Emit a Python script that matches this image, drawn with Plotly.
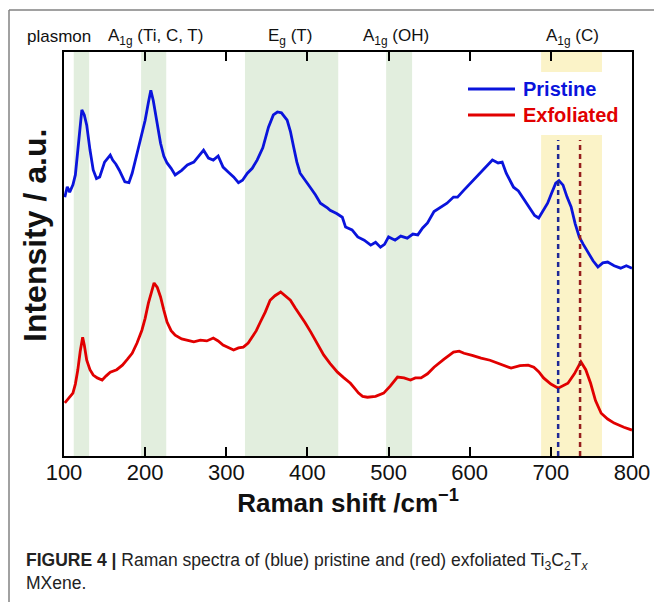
import plotly.graph_objects as go

# Raman shift (cm^-1) and intensity (a.u., arbitrary offset scale)
pristine_x = [101, 104, 107, 111, 114, 118, 122, 125, 128, 132, 136, 140, 144, 150, 157, 160, 164, 168, 175, 180, 184, 191, 196, 200, 204, 207, 210, 212,
              216, 219, 223, 227, 232, 237, 245, 252, 260, 266, 272, 278, 284, 290, 296, 303, 309, 315, 320, 326, 332, 338, 345, 352, 358, 363, 368, 375, 379, 383, 387, 391,
              397, 404, 410, 416, 425, 428, 436, 443, 447, 455, 462, 470, 478, 484, 490, 495, 500, 508, 515, 523, 530, 536, 542, 548, 556, 564, 572, 580, 585, 592, 601,
              608, 615, 622, 628, 635, 640, 645, 654, 660, 667, 675, 680, 685, 690, 696, 701, 706, 710, 715, 720, 725, 730, 735, 740, 746, 752, 758, 764, 770, 778, 786, 793, 800]
pristine_y = [63.5, 66.0, 64.7, 66.5, 68.9, 77.0, 84.7, 83.5, 81.0, 75.0, 70.1, 68.0, 68.4, 72.0, 73.7, 72.5, 71.5, 70.1, 67.2, 67.0, 69.3, 74.9, 79.0, 82.2, 86.5, 89.5, 87.0, 84.7,
              80.0, 76.6, 73.5, 71.8, 70.5, 68.9, 70.0, 71.3, 72.0, 73.5, 74.9, 73.0, 72.5, 73.5, 70.8, 69.5, 68.4, 67.0, 67.6, 69.3, 70.5, 72.5, 75.5, 80.5, 83.5, 84.2, 84.0, 82.2, 79.5, 75.7, 72.0, 69.3,
              67.5, 65.7, 64.0, 62.0, 60.8, 60.3, 59.5, 58.6, 56.2, 55.5, 53.8, 53.0, 51.8, 52.5, 51.3, 52.0, 53.8, 53.0, 54.0, 53.5, 54.5, 54.3, 56.0, 57.2, 60.0, 61.1, 62.0, 63.5, 63.5, 65.0, 66.9,
              68.5, 70.0, 71.3, 72.5, 71.8, 72.0, 69.3, 65.9, 65.0, 62.8, 60.3, 59.0, 58.4, 60.0, 62.0, 64.5, 66.9, 67.5, 66.4, 63.5, 61.1, 57.0, 53.8, 52.0, 49.9, 48.0, 46.5, 47.5, 47.7, 46.8, 46.2, 46.8, 46.2]

exfoliated_x = [101, 106, 111, 114, 117, 120, 123, 125, 128, 132, 136, 141, 147, 152, 157, 165, 172, 178, 184, 190, 196, 200, 204, 208, 211, 215, 219, 223, 227, 232, 237,
                245, 252, 260, 268, 276, 284, 290, 296, 302, 309, 315, 321, 327, 332, 337, 342, 348, 354, 360, 367, 373, 379, 385, 391, 397, 404, 412, 420, 428, 437, 445, 453,
                458, 463, 468, 474, 484, 494, 502, 511, 519, 527, 533, 540, 548, 556, 568, 580, 587, 593, 603, 614, 625, 635, 643, 651, 662, 672, 679, 685, 691, 700, 709,
                715, 721, 729, 737, 743, 749, 755, 762, 770, 778, 790, 800]
exfoliated_y = [13.4, 14.5, 15.8, 18.0, 21.4, 26.0, 29.4, 27.5, 23.8, 21.5, 20.2, 19.5, 19.0, 20.0, 20.9, 21.5, 22.6, 24.0, 25.5, 28.0, 31.1, 34.0, 37.7, 40.5, 42.6, 41.5, 39.2, 36.0, 33.1, 31.0, 29.9,
                29.0, 28.7, 28.3, 28.7, 28.5, 29.2, 28.5, 27.5, 27.0, 26.3, 26.8, 27.0, 28.0, 29.4, 31.0, 33.1, 35.5, 38.4, 39.5, 40.4, 39.5, 38.4, 36.5, 34.8, 33.0, 30.7, 28.0, 25.1, 23.0, 20.9, 19.5, 18.2,
                17.0, 15.8, 15.0, 14.8, 15.0, 15.8, 17.5, 19.7, 19.5, 19.0, 19.5, 19.5, 20.5, 22.1, 24.0, 25.8, 26.0, 25.5, 25.0, 24.3, 23.8, 23.1, 22.5, 21.9, 22.5, 22.6, 22.1, 21.0, 19.5, 18.0, 17.0,
                17.5, 18.2, 20.5, 23.4, 21.5, 18.2, 14.0, 10.9, 9.5, 8.5, 7.5, 6.8]

# Mode regions (cm^-1)
band_labels = ["plasmon", "A<sub>1g</sub> (Ti, C, T)", "E<sub>g</sub> (T)", "A<sub>1g</sub> (OH)", "A<sub>1g</sub> (C)"]
band_lo = [112, 195, 323, 497, 688]
band_hi = [131, 226, 438, 529, 763]
peak_pristine = 709
peak_exfoliated = 736

series_names = ["Pristine", "Exfoliated"]
tick_vals = [100, 200, 300, 400, 500, 600, 700, 800]

GREEN = "rgb(226,238,222)"
YELLOW = "rgb(251,243,200)"
BLUE = "rgb(10,20,220)"
RED = "rgb(225,0,0)"
FONT = "Liberation Sans, Arial, Helvetica"

W_PLOT = 654 - 64 - 22   # plotting width in px (for paper conversions)
H_PLOT = 456 - 52

def px_x(px):
    return (px - 64) / W_PLOT

def px_y(py):
    return (456 - py) / H_PLOT

fig = go.Figure()
fig.add_trace(go.Scatter(x=pristine_x, y=pristine_y, mode="lines",
                         line=dict(color=BLUE, width=2.8), name=series_names[0], showlegend=False))
fig.add_trace(go.Scatter(x=exfoliated_x, y=exfoliated_y, mode="lines",
                         line=dict(color=RED, width=2.8), name=series_names[1], showlegend=False))

shapes = []
for i in range(4):
    shapes.append(dict(type="rect", xref="x", yref="paper", x0=band_lo[i], x1=band_hi[i],
                       y0=0, y1=1, fillcolor=GREEN, line_width=0, layer="below"))
# A1g (C) band split around the legend
shapes.append(dict(type="rect", xref="x", yref="paper", x0=band_lo[4], x1=band_hi[4],
                   y0=px_y(72), y1=1, fillcolor=YELLOW, line_width=0, layer="below"))
shapes.append(dict(type="rect", xref="x", yref="paper", x0=band_lo[4], x1=band_hi[4],
                   y0=0, y1=px_y(135), fillcolor=YELLOW, line_width=0, layer="below"))
shapes.append(dict(type="line", xref="x", yref="paper", x0=peak_pristine, x1=peak_pristine,
                   y0=0, y1=px_y(140), line=dict(color="rgb(30,40,150)", width=2.5, dash="5px,4px")))
shapes.append(dict(type="line", xref="x", yref="paper", x0=peak_exfoliated, x1=peak_exfoliated,
                   y0=0, y1=px_y(140), line=dict(color="rgb(150,30,30)", width=2.5, dash="5px,4px")))
# legend samples
for col, py in zip([BLUE, RED], [89, 115]):
    shapes.append(dict(type="line", xref="paper", yref="paper", x0=px_x(468), x1=px_x(515),
                       y0=px_y(py), y1=px_y(py), line=dict(color=col, width=3)))
# outer figure frame (top and left)
shapes.append(dict(type="line", xref="paper", yref="paper", x0=px_x(9), x1=px_x(660), y0=px_y(10), y1=px_y(10),
                   line=dict(color="rgb(130,130,130)", width=1.5)))
shapes.append(dict(type="line", xref="paper", yref="paper", x0=px_x(9), x1=px_x(9), y0=px_y(10), y1=px_y(610),
                   line=dict(color="rgb(130,130,130)", width=1.5)))

annotations = []
label_px = [59, 155, 290, 396, 572]
for lab, px in zip(band_labels, label_px):
    annotations.append(dict(text=lab, xref="paper", yref="paper", x=px_x(px), y=px_y(37),
                            xanchor="center", yanchor="middle", showarrow=False,
                            font=dict(family=FONT, size=17, color="#111")))
for name, col, py in zip(series_names, [BLUE, RED], [89, 115]):
    annotations.append(dict(text="<b>" + name + "</b>", xref="paper", yref="paper", x=px_x(521), y=px_y(py),
                            xanchor="left", yanchor="middle", showarrow=False,
                            font=dict(family=FONT, size=20, color=col)))
annotations.append(dict(text="<b>Intensity / a.u.</b>", xref="paper", yref="paper",
                        x=px_x(35), y=px_y(236), xanchor="center", yanchor="middle", textangle=-90,
                        showarrow=False, font=dict(family=FONT, size=32, color="#111")))
annotations.append(dict(
    text="<b>FIGURE 4 |</b> Raman spectra of (blue) pristine and (red) exfoliated Ti<sub>3</sub>C<sub>2</sub>T<sub><i>x</i></sub><br>MXene.",
    xref="paper", yref="paper", x=px_x(24), y=px_y(548), xanchor="left", yanchor="top",
    align="left", showarrow=False,
    font=dict(family=FONT, size=17.5, color="#222")))

fig.update_layout(
    width=654, height=602,
    margin=dict(l=64, r=22, t=52, b=146, autoexpand=False),
    paper_bgcolor="white", plot_bgcolor="white",
    showlegend=False,
    shapes=shapes, annotations=annotations,
    xaxis=dict(range=[100, 800], tickvals=tick_vals, ticktext=[str(v) for v in tick_vals],
               ticks="inside", ticklen=9, tickwidth=1.5, tickcolor="black",
               showline=True, linecolor="black", linewidth=2, mirror="ticks", showgrid=False,
               zeroline=False, automargin=False, ticklabelstandoff=-4,
               tickfont=dict(family=FONT, size=22, color="#111"),
               title=dict(text="<b>Raman shift /cm<sup>−1</sup></b>", standoff=8,
                          font=dict(family=FONT, size=26, color="#111"))),
    yaxis=dict(range=[0.5, 98.8], showticklabels=False, ticks="",
               showline=True, linecolor="black", linewidth=2, mirror=True, showgrid=False,
               zeroline=False, automargin=False),
)

fig.write_html("out.html")
